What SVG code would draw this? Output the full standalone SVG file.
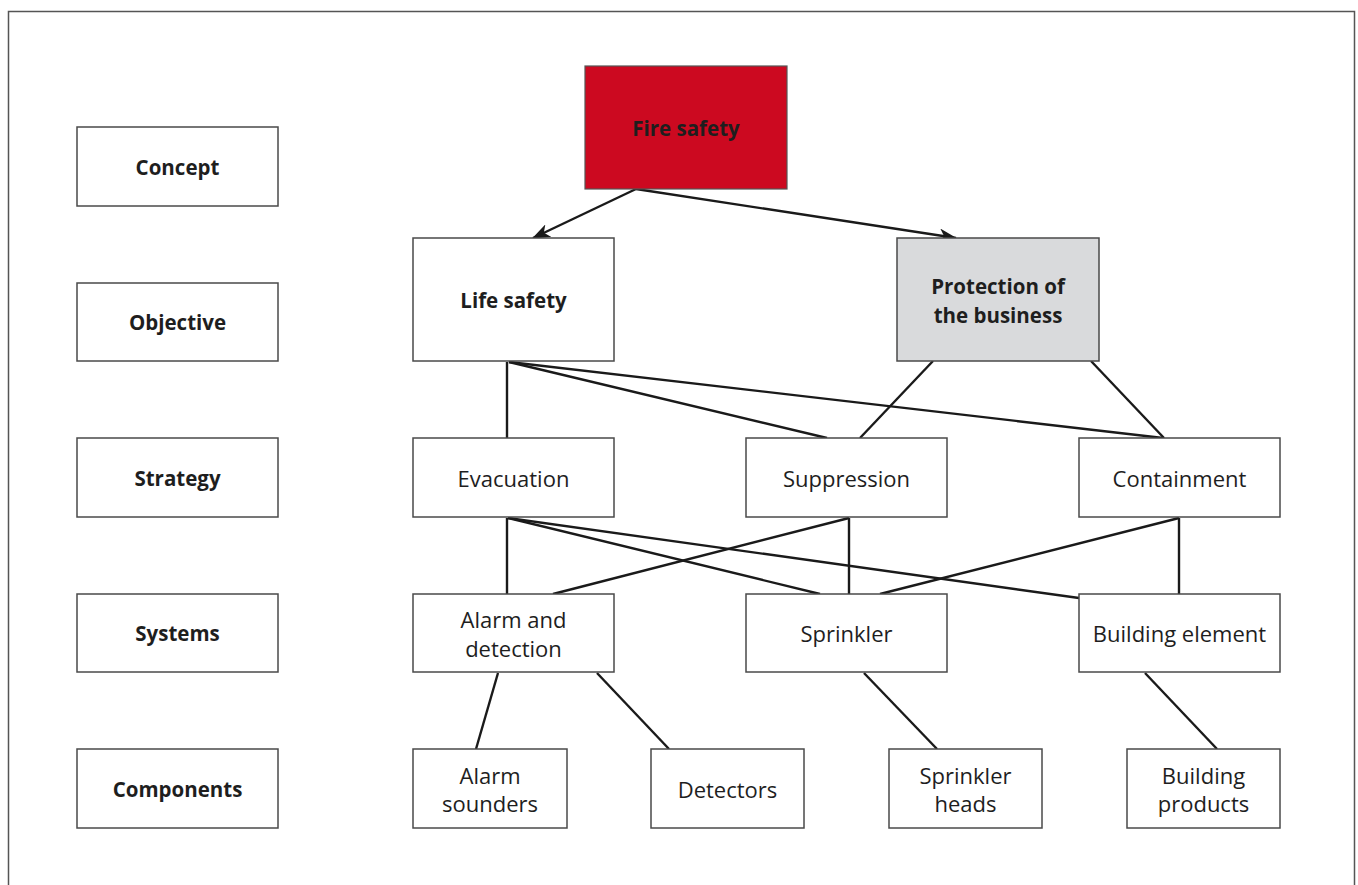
<svg xmlns="http://www.w3.org/2000/svg" width="1358" height="885" viewBox="0 0 1358 885">
<defs>
<style>
.box{fill:#fff;stroke:#4a4a4a;stroke-width:1.5}
.t{font-family:"Open Sans","Noto Sans","Liberation Sans",sans-serif;font-size:22px;fill:#1e1e1e;text-anchor:middle;dominant-baseline:central}
.b{font-weight:bold;font-size:20.5px}
.c{stroke:#1a1a1a;stroke-width:2.4;fill:none}
</style>
<marker id="arr" viewBox="0 0 18 14" refX="17" refY="7" markerWidth="18" markerHeight="14" markerUnits="userSpaceOnUse" orient="auto">
<path d="M0,0 L18,7 L0,14 L5,7 Z" fill="#1a1a1a"/>
</marker>
</defs>
<rect width="1358" height="885" fill="#fff"/>
<path d="M8.5,885 V11.5 H1354.5 V885" fill="none" stroke="#555" stroke-width="1.5"/>

<g id="connectors">
<line class="c" x1="636" y1="189" x2="533" y2="238" marker-end="url(#arr)"/>
<line class="c" x1="636" y1="189" x2="956" y2="238" marker-end="url(#arr)"/>
<line class="c" x1="507" y1="362" x2="507" y2="438"/>
<line class="c" x1="509" y1="362" x2="827" y2="438"/>
<line class="c" x1="509" y1="362" x2="1163" y2="438"/>
<line class="c" x1="933" y1="361" x2="860" y2="438"/>
<line class="c" x1="1091" y1="361" x2="1164" y2="438"/>
<line class="c" x1="507" y1="518" x2="507" y2="594"/>
<line class="c" x1="508" y1="518" x2="820" y2="594" stroke-width="3.2"/>
<line class="c" x1="508" y1="518" x2="1079" y2="598"/>
<line class="c" x1="849" y1="518" x2="553" y2="594"/>
<line class="c" x1="849" y1="518" x2="849" y2="594"/>
<line class="c" x1="1179" y1="518" x2="880" y2="594"/>
<line class="c" x1="1179" y1="518" x2="1179" y2="594"/>
<line class="c" x1="498" y1="673" x2="476" y2="749"/>
<line class="c" x1="597" y1="673" x2="669" y2="749"/>
<line class="c" x1="864" y1="673" x2="937" y2="749"/>
<line class="c" x1="1145" y1="673" x2="1217" y2="749"/>
</g>

<g id="concept"><rect class="box" x="77" y="127" width="201" height="79"/><text class="t b" x="177.5" y="167">Concept</text></g>
<g id="objective"><rect class="box" x="77" y="283" width="201" height="78"/><text class="t b" x="177.5" y="322">Objective</text></g>
<g id="strategy"><rect class="box" x="77" y="438" width="201" height="79"/><text class="t b" x="177.5" y="478">Strategy</text></g>
<g id="systems"><rect class="box" x="77" y="594" width="201" height="78"/><text class="t b" x="177.5" y="633">Systems</text></g>
<g id="components"><rect class="box" x="77" y="749" width="201" height="79"/><text class="t b" x="177.5" y="789">Components</text></g>

<g id="fire-safety"><rect x="585" y="66" width="202" height="123" fill="#cc0920" stroke="#555" stroke-width="1.2"/><text class="t b" x="686" y="128">Fire safety</text></g>
<g id="life-safety"><rect class="box" x="413" y="238" width="201" height="123"/><text class="t b" x="513.5" y="300">Life safety</text></g>
<g id="protection"><rect x="897" y="238" width="202" height="123" fill="#d9dadc" stroke="#4a4a4a" stroke-width="1.5"/><text class="t b" x="998" y="286">Protection of</text><text class="t b" x="998" y="315">the business</text></g>

<g id="evacuation"><rect class="box" x="413" y="438" width="201" height="79"/><text class="t" x="513.5" y="478">Evacuation</text></g>
<g id="suppression"><rect class="box" x="746" y="438" width="201" height="79"/><text class="t" x="846.5" y="478">Suppression</text></g>
<g id="containment"><rect class="box" x="1079" y="438" width="201" height="79"/><text class="t" x="1179.5" y="478">Containment</text></g>

<g id="alarm-detection"><rect class="box" x="413" y="594" width="201" height="78"/><text class="t" x="513.5" y="619">Alarm and</text><text class="t" x="513.5" y="648">detection</text></g>
<g id="sprinkler"><rect class="box" x="746" y="594" width="201" height="78"/><text class="t" x="846.5" y="633">Sprinkler</text></g>
<g id="building-element"><rect class="box" x="1079" y="594" width="201" height="78"/><text class="t" x="1179.5" y="633">Building element</text></g>

<g id="alarm-sounders"><rect class="box" x="413" y="749" width="154" height="79"/><text class="t" x="490" y="775">Alarm</text><text class="t" x="490" y="803">sounders</text></g>
<g id="detectors"><rect class="box" x="651" y="749" width="153" height="79"/><text class="t" x="727.5" y="789">Detectors</text></g>
<g id="sprinkler-heads"><rect class="box" x="889" y="749" width="153" height="79"/><text class="t" x="965.5" y="775">Sprinkler</text><text class="t" x="965.5" y="803">heads</text></g>
<g id="building-products"><rect class="box" x="1127" y="749" width="153" height="79"/><text class="t" x="1203.5" y="775">Building</text><text class="t" x="1203.5" y="803">products</text></g>
</svg>
